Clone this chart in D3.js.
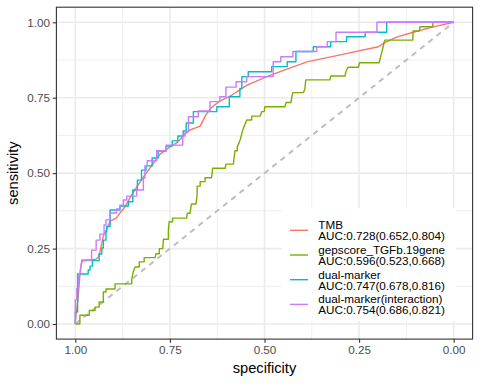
<!DOCTYPE html>
<html><head><meta charset="utf-8">
<script src="https://cdn.jsdelivr.net/npm/d3@7"></script>
<style>body{margin:0;background:#fff}svg{display:block;font-family:"Liberation Sans",Arial,sans-serif}</style>
</head><body><svg id="c" width="480" height="384"></svg>
<script>
const seriesNames = ["TMB","gepscore_TGFb.19gene","dual-marker","dual-marker(interaction)"];
const aucLabels = ["AUC:0.728(0.652,0.804)","AUC:0.596(0.523,0.668)","AUC:0.747(0.678,0.816)","AUC:0.754(0.686,0.821)"];
const colors = ["#F8766D","#7CAE00","#00BFC4","#C77CFF"];
const tickValues = [1,0.75,0.5,0.25,0];
const tickLabels = ["1.00","0.75","0.50","0.25","0.00"];

const tmbSpec = [1,0.998,0.995,0.993,0.989,0.986,0.982,0.961,0.945,0.939,0.935,0.926,0.917,0.908,0.892,0.882,0.869,0.851,0.834,0.816,0.797,0.776,0.750,0.729,0.710,0.697,0.670,0.655,0.639,0.618,0.586,0.546,0.494,0.446,0.388,0.300,0.199,0.186,0.151,0.107,0.054,0];
const tmbSens = [0,0.030,0.063,0.080,0.146,0.186,0.209,0.212,0.215,0.222,0.239,0.292,0.315,0.341,0.351,0.368,0.388,0.428,0.461,0.494,0.527,0.563,0.587,0.603,0.630,0.643,0.656,0.693,0.719,0.739,0.759,0.792,0.820,0.842,0.869,0.892,0.919,0.930,0.951,0.967,0.985,1];

const gepSpec = [1,0.988,0.988,0.963,0.963,0.948,0.948,0.937,0.937,0.926,0.926,0.919,0.919,0.895,0.895,0.851,0.851,0.847,0.842,0.831,0.831,0.818,0.818,0.789,0.787,0.778,0.778,0.769,0.767,0.754,0.754,0.752,0.743,0.743,0.706,0.704,0.697,0.693,0.681,0.678,0.678,0.670,0.670,0.657,0.657,0.640,0.637,0.604,0.602,0.582,0.581,0.578,0.572,0.572,0.567,0.563,0.558,0.552,0.547,0.534,0.534,0.512,0.507,0.501,0.499,0.446,0.443,0.430,0.428,0.425,0.397,0.393,0.391,0.327,0.325,0.287,0.285,0.279,0.252,0.249,0.197,0.193,0.188,0.184,0.182,0.108,0.107,0.091,0.089,0.055,0.055,0];
const gepSens = [0,0,0.029,0.029,0.045,0.045,0.056,0.056,0.073,0.073,0.106,0.106,0.116,0.116,0.133,0.133,0.148,0.172,0.189,0.189,0.206,0.206,0.220,0.220,0.233,0.233,0.250,0.250,0.281,0.281,0.312,0.339,0.339,0.351,0.351,0.367,0.367,0.398,0.398,0.428,0.457,0.457,0.472,0.472,0.485,0.485,0.516,0.516,0.530,0.530,0.546,0.574,0.574,0.588,0.601,0.616,0.641,0.660,0.676,0.676,0.689,0.689,0.704,0.704,0.720,0.720,0.734,0.734,0.751,0.767,0.767,0.781,0.809,0.809,0.822,0.822,0.836,0.851,0.851,0.866,0.866,0.886,0.911,0.932,0.941,0.941,0.971,0.971,0.985,0.985,1,1];

const dualSpec = [1,1,0.994,0.994,0.966,0.966,0.961,0.961,0.955,0.955,0.937,0.937,0.930,0.930,0.926,0.926,0.919,0.919,0.917,0.917,0.908,0.908,0.882,0.882,0.860,0.860,0.848,0.848,0.836,0.836,0.825,0.825,0.813,0.813,0.797,0.797,0.781,0.781,0.760,0.760,0.744,0.744,0.729,0.729,0.715,0.715,0.707,0.707,0.688,0.688,0.626,0.626,0.593,0.593,0.565,0.565,0.560,0.560,0.543,0.543,0.481,0.481,0.440,0.440,0.417,0.417,0.371,0.371,0.325,0.325,0.283,0.283,0.234,0.234,0.177,0.177,0];
const dualSens = [0,0.040,0.040,0.166,0.166,0.179,0.179,0.192,0.192,0.210,0.210,0.232,0.232,0.252,0.252,0.278,0.278,0.305,0.305,0.323,0.323,0.378,0.378,0.391,0.391,0.405,0.405,0.444,0.444,0.477,0.477,0.510,0.510,0.524,0.524,0.550,0.550,0.573,0.573,0.590,0.590,0.607,0.607,0.623,0.623,0.640,0.640,0.666,0.666,0.704,0.704,0.720,0.720,0.753,0.753,0.781,0.781,0.820,0.820,0.836,0.836,0.853,0.853,0.869,0.869,0.903,0.903,0.919,0.919,0.936,0.936,0.952,0.952,0.967,0.967,1,1];

const interSpec = [1,1,0.996,0.996,0.992,0.992,0.988,0.983,0.957,0.957,0.945,0.945,0.935,0.935,0.924,0.924,0.919,0.919,0.908,0.908,0.891,0.891,0.882,0.882,0.873,0.873,0.864,0.864,0.838,0.838,0.820,0.820,0.816,0.816,0.810,0.810,0.785,0.785,0.760,0.760,0.716,0.716,0.710,0.710,0.701,0.701,0.675,0.675,0.644,0.644,0.618,0.618,0.602,0.602,0.575,0.575,0.547,0.547,0.477,0.477,0.457,0.457,0.425,0.425,0.362,0.362,0.334,0.334,0.311,0.311,0.203,0.203,0];
const interSens = [0,0.080,0.080,0.119,0.119,0.162,0.162,0.212,0.212,0.245,0.245,0.278,0.278,0.298,0.298,0.328,0.328,0.345,0.345,0.368,0.368,0.381,0.381,0.394,0.394,0.411,0.411,0.424,0.424,0.444,0.444,0.484,0.484,0.524,0.524,0.541,0.541,0.574,0.574,0.593,0.593,0.623,0.623,0.637,0.637,0.687,0.687,0.706,0.706,0.737,0.737,0.753,0.753,0.785,0.785,0.803,0.803,0.820,0.820,0.869,0.869,0.886,0.886,0.903,0.903,0.919,0.919,0.936,0.936,0.967,0.967,1,1];

const specs = [tmbSpec,gepSpec,dualSpec,interSpec];
const senss = [tmbSens,gepSens,dualSens,interSens];

const svg = d3.select("#c");
const L=56.4,R=472.6,T=7.2,B=339.1;
const x = d3.scaleLinear().domain([1.05,-0.05]).range([L,R]);
const y = d3.scaleLinear().domain([-0.05,1.05]).range([B,T]);
const minor = [0.875,0.625,0.375,0.125];

const g = svg.append("g");
g.append("rect").attr("x",L).attr("y",T).attr("width",R-L).attr("height",B-T).attr("fill","#fff");
minor.forEach(v=>{
  g.append("line").attr("x1",x(v)).attr("x2",x(v)).attr("y1",T).attr("y2",B).attr("stroke","#EBEBEB").attr("stroke-width",0.8);
  g.append("line").attr("y1",y(v)).attr("y2",y(v)).attr("x1",L).attr("x2",R).attr("stroke","#EBEBEB").attr("stroke-width",0.8);
});
tickValues.forEach(v=>{
  g.append("line").attr("x1",x(v)).attr("x2",x(v)).attr("y1",T).attr("y2",B).attr("stroke","#EBEBEB").attr("stroke-width",1.6);
  g.append("line").attr("y1",y(v)).attr("y2",y(v)).attr("x1",L).attr("x2",R).attr("stroke","#EBEBEB").attr("stroke-width",1.6);
});

// diagonal reference
g.append("line").attr("x1",x(1)).attr("y1",y(0)).attr("x2",x(0)).attr("y2",y(1))
  .attr("stroke","#BEBEBE").attr("stroke-width",2).attr("stroke-dasharray","5.5,5");

const line = d3.line().x(d=>x(d[0])).y(d=>y(d[1]));
specs.forEach((sp,i)=>{
  const pts = sp.map((s,j)=>[s,senss[i][j]]);
  g.append("path").datum(pts).attr("d",line).attr("fill","none")
    .attr("stroke",colors[i]).attr("stroke-width",1.4).attr("stroke-linejoin","round");
});

// legend
const lg = svg.append("g");
lg.append("rect").attr("x",282).attr("y",208).attr("width",174).attr("height",113).attr("fill","#fff");
seriesNames.forEach((n,i)=>{
  const kc = 230.3 + 24.7*i;
  lg.append("line").attr("x1",290).attr("x2",308).attr("y1",kc).attr("y2",kc).attr("stroke",colors[i]).attr("stroke-width",1.4);
  const t = lg.append("text").attr("x",318.3).attr("font-size","11.7px").attr("fill","#000");
  t.append("tspan").attr("x",318.3).attr("y",kc-1.2).text(n);
  t.append("tspan").attr("x",318.3).attr("y",kc+9.9).text(aucLabels[i]);
});

// panel border
svg.append("rect").attr("x",L).attr("y",T).attr("width",R-L).attr("height",B-T).attr("fill","none").attr("stroke","#333333").attr("stroke-width",1.1);

// axes
const xa = svg.append("g").attr("transform",`translate(0,${B})`)
  .call(d3.axisBottom(x).tickValues(tickValues).tickFormat((d,i)=>tickLabels[i]).tickSize(3.7).tickPadding(2.8));
const ya = svg.append("g").attr("transform",`translate(${L},0)`)
  .call(d3.axisLeft(y).tickValues(tickValues).tickFormat((d,i)=>tickLabels[i]).tickSize(3.7).tickPadding(2.8));
[xa,ya].forEach(a=>{
  a.select(".domain").remove();
  a.selectAll(".tick line").attr("stroke","#333333").attr("stroke-width",1.1);
  a.selectAll(".tick text").attr("fill","#4D4D4D").attr("font-size","11.7px").attr("font-family","Liberation Sans, Arial, sans-serif");
});

svg.append("text").attr("x",(L+R)/2).attr("y",372.5).attr("text-anchor","middle").attr("font-size","14.67px").text("specificity");
svg.append("text").attr("transform",`translate(18,${(T+B)/2}) rotate(-90)`).attr("text-anchor","middle").attr("font-size","14.67px").text("sensitivity");
</script></body></html>
